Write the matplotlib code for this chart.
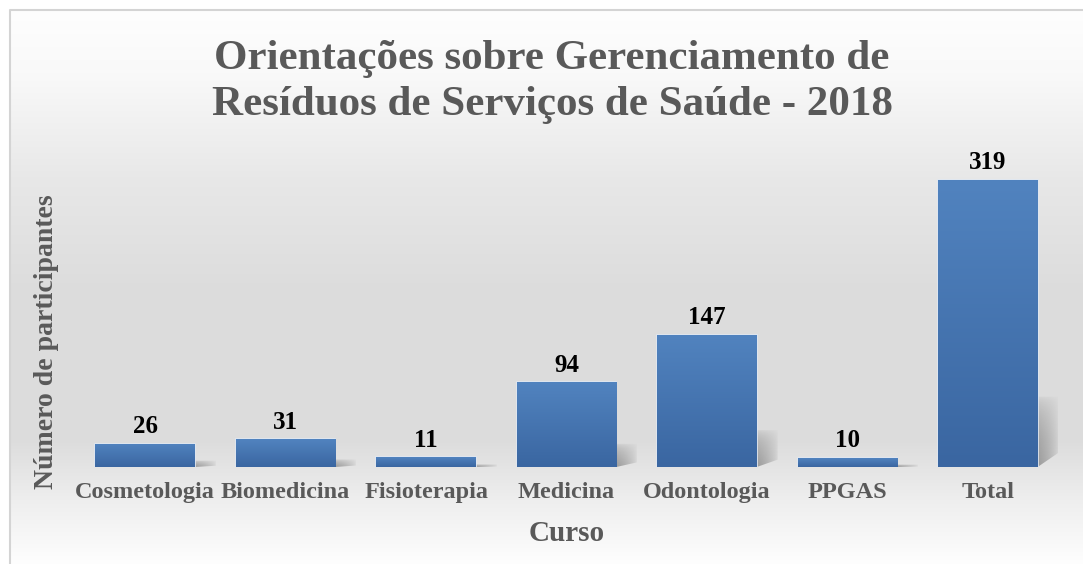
import numpy as np
import matplotlib
matplotlib.use('Agg')
import matplotlib.pyplot as plt
from matplotlib.colors import LinearSegmentedColormap
from matplotlib.patches import Polygon

plt.rcParams['font.family'] = ['Liberation Serif', 'DejaVu Serif']

cursos = ['Cosmetologia', 'Biomedicina', 'Fisioterapia', 'Medicina',
          'Odontologia', 'PPGAS', 'Total']
participantes = [26, 31, 11, 94, 147, 10, 319]

TITLE = 'Orientações sobre Gerenciamento de\nResíduos de Serviços de Saúde - 2018'
C_TXT = '#595959'
C_TOP = '#5183bf'
C_BOT = '#3a66a1'

fig = plt.figure(figsize=(10.83, 5.64), dpi=100)

# ── background: boxed panel with vertical gray gradient ──────────────────
bg = fig.add_axes([0, 0, 1, 1], zorder=0)
bg.set_xlim(0, 1083)
bg.set_ylim(564, 0)
bg.axis('off')
stops = [(0.0, 0.995), (0.12, 0.975), (0.30, 0.91), (0.50, 0.865),
         (0.78, 0.865), (0.88, 0.93), (1.0, 0.995)]
bg_cmap = LinearSegmentedColormap.from_list(
    'bg', [(p, (g, g, g)) for p, g in stops])
grad = np.linspace(0, 1, 256).reshape(-1, 1)
bg.imshow(grad, cmap=bg_cmap, extent=[10, 1083, 564, 10], aspect='auto',
          vmin=0, vmax=1)
bg.plot([10, 10, 1083], [564, 10, 10], color='#d4d4d4', lw=1.5)

# ── chart ────────────────────────────────────────────────────────────────
ax = fig.add_axes([75 / 1083, 97 / 564, 983 / 1083, 315 / 564], zorder=1)
ax.patch.set_alpha(0)
x = np.arange(len(cursos))
bars = ax.bar(x, participantes, width=0.71, color=C_TOP,
              edgecolor='#dfe7f2', lw=1.2, zorder=2)

bar_cmap = LinearSegmentedColormap.from_list('bar', [C_BOT, C_TOP])
for rect in bars:
    x0, w, h = rect.get_x(), rect.get_width(), rect.get_height()
    # soft shadow to the lower right
    xr = x0 + w
    s = min(0.28 * h, 80)
    dx = 0.15
    shadow = Polygon([(xr, 0), (xr + dx, 0.2 * s), (xr + dx, s), (xr, s)],
                     closed=True, facecolor='none', edgecolor='none')
    ax.add_patch(shadow)
    n, m = 40, 20
    vv, uu = np.meshgrid(np.linspace(1, 0, n), np.linspace(0, 1, m),
                         indexing='ij')
    rgba = np.zeros((n, m, 4))
    rgba[..., :3] = 0.42
    rgba[..., 3] = 0.6 * (1 - uu) ** 0.6 * (1 - vv) ** 0.5
    im = ax.imshow(rgba, extent=[xr, xr + dx, 0, s], aspect='auto', zorder=1)
    im.set_clip_path(shadow)
    # vertical gradient fill
    g = np.linspace(0, 1, 100).reshape(-1, 1)
    im = ax.imshow(g, cmap=bar_cmap, extent=[x0, x0 + w, 0, h],
                   origin='lower', aspect='auto', zorder=3, vmin=0, vmax=1)
    im.set_clip_path(rect)

ax.bar_label(bars, padding=4, fontsize=18, fontweight='bold', color='black')

ax.set_xlim(-0.5, len(cursos) - 0.5)
ax.set_ylim(0, 350)
ax.set_xticks(x)
ax.set_xticklabels(cursos, fontsize=17.5, fontweight='bold', color=C_TXT)
ax.set_yticks([])
ax.tick_params(axis='x', length=0, pad=11)
for sp in ax.spines.values():
    sp.set_visible(False)

ax.set_xlabel('Curso', fontsize=21, fontweight='bold', color=C_TXT, labelpad=12)
fig.text(47 / 1083, 1 - 342 / 564, 'Número de participantes', rotation=90,
         ha='center', va='center', fontsize=20, fontweight='bold', color=C_TXT)

fig.text(552 / 1083, 1 - 82 / 564, TITLE, ha='center', va='center',
         fontsize=31, fontweight='bold', color=C_TXT, linespacing=1.3)

fig.savefig('out.png', dpi=100, facecolor='white')
